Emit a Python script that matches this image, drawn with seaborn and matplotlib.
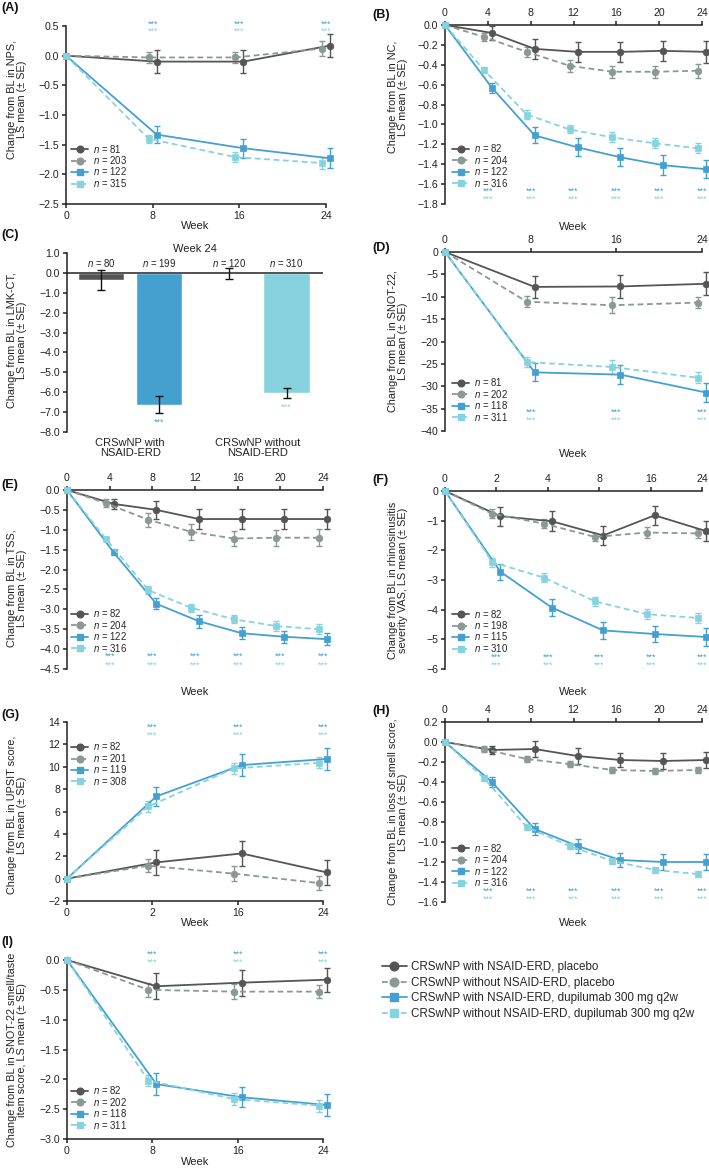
import numpy as np
import matplotlib
matplotlib.use("Agg")
import matplotlib.pyplot as plt
import seaborn as sns
from matplotlib.lines import Line2D
from matplotlib.ticker import FuncFormatter

# ---------------- data ----------------
KEYS = ["wp", "op", "wd", "od"]
LEGEND_LABELS = ["CRSwNP with NSAID-ERD, placebo",
                 "CRSwNP without NSAID-ERD, placebo",
                 "CRSwNP with NSAID-ERD, dupilumab 300 mg q2w",
                 "CRSwNP without NSAID-ERD, dupilumab 300 mg q2w"]

# (A) NPS
A_weeks = [0, 8, 16, 24]
A_wp = [0, -0.10, -0.10, 0.17]; A_wp_se = [0, 0.19, 0.20, 0.20]
A_op = [0, -0.03, -0.03, 0.12]; A_op_se = [0, 0.10, 0.10, 0.12]
A_wd = [0, -1.33, -1.56, -1.73]; A_wd_se = [0, 0.15, 0.16, 0.17]
A_od = [0, -1.40, -1.71, -1.81]; A_od_se = [0, 0.07, 0.08, 0.10]
A_n = [81, 203, 122, 315]

# (B) NC
B_weeks = [0, 4, 8, 12, 16, 20, 24]
B_wp = [0, -0.08, -0.24, -0.27, -0.27, -0.26, -0.27]; B_wp_se = [0, 0.07, 0.10, 0.10, 0.10, 0.10, 0.11]
B_op = [0, -0.12, -0.27, -0.41, -0.47, -0.47, -0.46]; B_op_se = [0, 0.04, 0.05, 0.06, 0.06, 0.06, 0.07]
B_wd = [0, -0.63, -1.11, -1.23, -1.33, -1.41, -1.45]; B_wd_se = [0, 0.05, 0.08, 0.09, 0.09, 0.10, 0.09]
B_od = [0, -0.45, -0.90, -1.05, -1.13, -1.19, -1.24]; B_od_se = [0, 0.03, 0.05, 0.04, 0.05, 0.05, 0.05]
B_n = [82, 204, 122, 316]

# (C) LMK-CT at week 24
C_groups = ["CRSwNP with\nNSAID-ERD", "CRSwNP without\nNSAID-ERD"]
C_bar_keys = ["wp", "wd", "op", "od"]
C_vals = [-0.35, -6.62, -0.03, -6.02]
C_se = [0.51, 0.42, 0.27, 0.25]
C_n = [80, 199, 120, 310]

# (D) SNOT-22
D_weeks = [0, 8, 16, 24]
D_wp = [0, -7.8, -7.7, -7.1]; D_wp_se = [0, 2.4, 2.6, 2.6]
D_op = [0, -11.1, -11.9, -11.3]; D_op_se = [0, 1.3, 1.8, 1.3]
D_wd = [0, -26.9, -27.4, -31.4]; D_wd_se = [0, 2.0, 2.2, 2.2]
D_od = [0, -24.6, -25.7, -28.1]; D_od_se = [0, 1.2, 1.5, 1.2]
D_n = [81, 202, 118, 311]

# (E) TSS
E_weeks = [0, 4, 8, 12, 16, 20, 24]
E_wp = [0, -0.35, -0.50, -0.73, -0.73, -0.73, -0.73]; E_wp_se = [0, 0.12, 0.22, 0.24, 0.25, 0.24, 0.24]
E_op = [0, -0.33, -0.75, -1.05, -1.22, -1.20, -1.20]; E_op_se = [0, 0.10, 0.18, 0.20, 0.20, 0.20, 0.22]
E_wd = [0, -1.57, -2.86, -3.30, -3.60, -3.69, -3.75]; E_wd_se = [0, 0.07, 0.14, 0.17, 0.15, 0.15, 0.15]
E_od = [0, -1.22, -2.52, -2.96, -3.25, -3.42, -3.50]; E_od_se = [0, 0.05, 0.10, 0.10, 0.10, 0.12, 0.12]
E_n = [82, 204, 122, 316]

# (F) rhinosinusitis severity VAS
F_weeks = ["0", "2", "4", "8", "16", "24"]
F_wp = [0, -0.85, -1.02, -1.50, -0.82, -1.35]; F_wp_se = [0, 0.32, 0.33, 0.33, 0.32, 0.35]
F_op = [0, -0.77, -1.10, -1.55, -1.40, -1.43]; F_op_se = [0, 0.15, 0.15, 0.15, 0.20, 0.15]
F_wd = [0, -2.72, -3.93, -4.70, -4.82, -4.92]; F_wd_se = [0, 0.27, 0.30, 0.30, 0.28, 0.30]
F_od = [0, -2.40, -2.92, -3.72, -4.15, -4.28]; F_od_se = [0, 0.15, 0.15, 0.15, 0.17, 0.17]
F_n = [82, 198, 115, 310]

# (G) UPSIT
G_weeks = ["0", "2", "16", "24"]
G_wp = [0, 1.45, 2.25, 0.55]; G_wp_se = [0, 1.10, 1.10, 1.10]
G_op = [0, 1.15, 0.45, -0.40]; G_op_se = [0, 0.60, 0.70, 0.60]
G_wd = [0, 7.35, 10.15, 10.70]; G_wd_se = [0, 0.85, 1.00, 1.00]
G_od = [0, 6.45, 9.85, 10.35]; G_od_se = [0, 0.50, 0.50, 0.50]
G_n = [82, 201, 119, 308]

# (H) loss of smell
H_weeks = [0, 4, 8, 12, 16, 20, 24]
H_wp = [0, -0.08, -0.07, -0.14, -0.18, -0.19, -0.18]; H_wp_se = [0, 0.04, 0.08, 0.08, 0.07, 0.08, 0.08]
H_op = [0, -0.07, -0.17, -0.22, -0.28, -0.29, -0.28]; H_op_se = [0, 0.03, 0.03, 0.03, 0.03, 0.03, 0.03]
H_wd = [0, -0.40, -0.87, -1.04, -1.18, -1.20, -1.20]; H_wd_se = [0, 0.05, 0.06, 0.07, 0.07, 0.08, 0.08]
H_od = [0, -0.36, -0.85, -1.04, -1.19, -1.28, -1.32]; H_od_se = [0, 0.03, 0.03, 0.03, 0.03, 0.03, 0.03]
H_n = [82, 204, 122, 316]

# (I) SNOT-22 smell/taste item
I_weeks = [0, 8, 16, 24]
I_wp = [0, -0.44, -0.38, -0.33]; I_wp_se = [0, 0.22, 0.22, 0.20]
I_op = [0, -0.50, -0.53, -0.53]; I_op_se = [0, 0.12, 0.12, 0.11]
I_wd = [0, -2.08, -2.30, -2.43]; I_wd_se = [0, 0.18, 0.17, 0.18]
I_od = [0, -2.02, -2.33, -2.44]; I_od_se = [0, 0.09, 0.10, 0.10]
I_n = [82, 202, 118, 311]

# ---------------- style ----------------
sns.set_style("ticks")
plt.rcParams["font.family"] = ["Liberation Sans", "DejaVu Sans"]
plt.rcParams["mathtext.fontset"] = "custom"
plt.rcParams["mathtext.rm"] = "Liberation Sans"
plt.rcParams["mathtext.it"] = "Liberation Sans:italic"

COLORS = {"wp": "#555555", "op": "#8b9894", "wd": "#44a1cf", "od": "#86d3df"}
DASH = (0, (3.2, 2.0))
LS = {"wp": "-", "op": DASH, "wd": "-", "od": DASH}
MK = {"wp": "o", "op": "o", "wd": "s", "od": "s"}
SIGN = {"wp": 1, "op": -1, "wd": 1, "od": -1}
INK = "#222222"
TICK_FS = 7.6
LEG_FS = 6.9
STAR_FS = 6.5
WEEK_FS = 8.0
YL_FS = 7.8

W, H = 709, 1169
fig = plt.figure(figsize=(W / 100, H / 100), dpi=100)


def make_ax(x0, y0, x1, y1):
    return fig.add_axes([x0 / W, 1 - y1 / H, (x1 - x0) / W, (y1 - y0) / H])


def fmt(dec):
    def f(v, p):
        if abs(v) < 1e-9:
            v = 0.0
        return f"{v:.{dec}f}".replace("-", "\u2212")
    return FuncFormatter(f)


def style_ax(ax, top):
    ax.spines["right"].set_visible(False)
    if top:
        ax.spines["bottom"].set_visible(False)
        ax.xaxis.tick_top()
    else:
        ax.spines["top"].set_visible(False)
    for s in ax.spines.values():
        s.set_linewidth(1.1)
        s.set_color(INK)
    ax.tick_params(direction="out", length=3, width=1.1, labelsize=TICK_FS,
                   pad=2, colors=INK)


def ftext(x, y, s, **kw):
    fig.text(x / W, 1 - y / H, s, **kw)


def line_panel(ax, x, series, ses, ns, xlim, ylim, yticks, ydec, xticks,
               xlabels, top, star_x, star_y, leg_anchor):
    ax.set_xlim(xlim)
    ax.set_ylim(ylim)
    wpx = ax.get_position().width * W
    hpx = ax.get_position().height * H
    ypp = (ylim[1] - ylim[0]) / hpx
    off = 4.0 * (xlim[1] - xlim[0]) / wpx
    x = np.asarray(x, float)
    for k in KEYS:
        xs = x + SIGN[k] * off * (x > 0)
        m = np.asarray(series[k], float)
        e = np.asarray(ses[k], float)
        ax.errorbar(xs[1:], m[1:], yerr=e[1:], fmt="none", ecolor=COLORS[k],
                    elinewidth=1.0, capsize=2.4, capthick=1.0, clip_on=False,
                    zorder=2)
        sns.lineplot(x=xs, y=m, ax=ax, color=COLORS[k], linestyle=LS[k],
                     marker=MK[k], markersize=4.8, markeredgecolor=COLORS[k],
                     markeredgewidth=0.5, linewidth=1.3, clip_on=False,
                     zorder=3, estimator=None, sort=False)
    style_ax(ax, top)
    ax.set_yticks(yticks)
    ax.yaxis.set_major_formatter(fmt(ydec))
    ax.set_xticks(xticks)
    ax.set_xticklabels(xlabels)
    ax.set_xlabel("")
    ax.set_ylabel("")
    # asterisk glyphs sit high in the line box: nudge down by ~1.5 px
    for sx in star_x:
        ax.text(sx, star_y[0] - 1.5 * ypp, "***", color=COLORS["wd"],
                fontsize=STAR_FS, ha="center", va="center", clip_on=False)
        ax.text(sx, star_y[1] - 1.5 * ypp, "***", color=COLORS["od"],
                fontsize=STAR_FS, ha="center", va="center", clip_on=False)
    handles = [Line2D([0], [0], color=COLORS[k], ls=LS[k], marker=MK[k],
                      markersize=4.8, lw=1.3, mec=COLORS[k]) for k in KEYS]
    labels = [rf"$n$ = {n}" for n in ns]
    ax.legend(handles, labels, loc="upper left", bbox_to_anchor=leg_anchor,
              frameon=False, fontsize=LEG_FS, handlelength=1.8,
              handletextpad=0.45, labelspacing=-0.06, borderpad=0,
              borderaxespad=0)


# ---- (A)
ax = make_ax(66, 26, 326, 204)
line_panel(ax, A_weeks,
           dict(wp=A_wp, op=A_op, wd=A_wd, od=A_od),
           dict(wp=A_wp_se, op=A_op_se, wd=A_wd_se, od=A_od_se), A_n,
           (0, 24), (-2.5, 0.5), np.arange(-2.5, 0.51, 0.5), 1,
           A_weeks, [str(w) for w in A_weeks], False, A_weeks[1:], (0.56, 0.43),
           (0.02, 0.345))

# ---- (B)
ax = make_ax(445, 25, 702, 204)
line_panel(ax, B_weeks,
           dict(wp=B_wp, op=B_op, wd=B_wd, od=B_od),
           dict(wp=B_wp_se, op=B_op_se, wd=B_wd_se, od=B_od_se), B_n,
           (0, 24), (-1.8, 0.0), np.arange(-1.8, 0.01, 0.2), 1,
           B_weeks, [str(w) for w in B_weeks], True, B_weeks[1:], (-1.655, -1.74),
           (0.027, 0.345))

# ---- (C)
ax = make_ax(67, 253, 323, 432)
C_pos = [0, 1, 2.2, 3.2]
ax.set_xlim(-0.59, 3.83)
ax.set_ylim(-8, 1)
ax.bar(C_pos, C_vals, width=0.8, color=[COLORS[k] for k in C_bar_keys],
       zorder=2)
ax.errorbar(C_pos, C_vals, yerr=C_se, fmt="none", ecolor="#111111",
            elinewidth=1.0, capsize=3, capthick=1.0, zorder=3)
ax.axhline(0, color=INK, lw=1.1, zorder=4)
style_ax(ax, False)
ax.spines["bottom"].set_visible(False)
ax.set_yticks(np.arange(-8, 1.01, 1))
ax.yaxis.set_major_formatter(fmt(1))
ax.set_xticks([(C_pos[0] + C_pos[1]) / 2, (C_pos[2] + C_pos[3]) / 2])
ax.set_xticklabels(C_groups, fontsize=8, linespacing=1.05)
ax.tick_params(axis="x", length=0, pad=4)
for p, n in zip(C_pos, C_n):
    ax.text(p, 0.52, rf"$n$ = {n}", fontsize=LEG_FS, ha="center", va="center",
            color=INK)
ax.text(C_pos[1], C_vals[1] - C_se[1] - 0.48, "***", color=COLORS["wd"],
        fontsize=STAR_FS, ha="center", va="center")
ax.text(C_pos[3], C_vals[3] - C_se[3] - 0.48, "***", color=COLORS["od"],
        fontsize=STAR_FS, ha="center", va="center")
ftext(195, 249, "Week 24", fontsize=WEEK_FS, ha="center", va="center",
      color=INK)

# ---- (D)
ax = make_ax(445, 252, 702, 431)
line_panel(ax, D_weeks,
           dict(wp=D_wp, op=D_op, wd=D_wd, od=D_od),
           dict(wp=D_wp_se, op=D_op_se, wd=D_wd_se, od=D_od_se), D_n,
           (0, 24), (-40, 0), np.arange(-40, 0.1, 5), 0,
           D_weeks, [str(w) for w in D_weeks], True, D_weeks[1:], (-35.4, -37.3),
           (0.027, 0.305))

# ---- (E)
ax = make_ax(67, 490, 323, 669)
line_panel(ax, E_weeks,
           dict(wp=E_wp, op=E_op, wd=E_wd, od=E_od),
           dict(wp=E_wp_se, op=E_op_se, wd=E_wd_se, od=E_od_se), E_n,
           (0, 24), (-4.5, 0), np.arange(-4.5, 0.01, 0.5), 1,
           E_weeks, [str(w) for w in E_weeks], True, E_weeks[1:], (-4.15, -4.36),
           (0.016, 0.345))

# ---- (F)
ax = make_ax(445, 491, 702, 669)
F_pos = list(range(len(F_weeks)))
line_panel(ax, F_pos,
           dict(wp=F_wp, op=F_op, wd=F_wd, od=F_od),
           dict(wp=F_wp_se, op=F_op_se, wd=F_wd_se, od=F_od_se), F_n,
           (0, F_pos[-1]), (-6, 0), np.arange(-6, 0.1, 1), 0,
           F_pos, F_weeks, True, F_pos[1:], (-5.55, -5.81),
           (0.027, 0.345))

# ---- (G)
ax = make_ax(67, 722, 323, 901)
G_pos = list(range(len(G_weeks)))
line_panel(ax, G_pos,
           dict(wp=G_wp, op=G_op, wd=G_wd, od=G_od),
           dict(wp=G_wp_se, op=G_op_se, wd=G_wd_se, od=G_od_se), G_n,
           (0, G_pos[-1]), (-2, 14), np.arange(-2, 14.1, 2), 0,
           G_pos, G_weeks, False, G_pos[1:], (13.68, 12.98),
           (0.016, 0.897))

# ---- (H)
ax = make_ax(445, 722, 702, 902)
line_panel(ax, H_weeks,
           dict(wp=H_wp, op=H_op, wd=H_wd, od=H_od),
           dict(wp=H_wp_se, op=H_op_se, wd=H_wd_se, od=H_od_se), H_n,
           (0, 24), (-1.6, 0.2), np.arange(-1.6, 0.21, 0.2), 1,
           H_weeks, [str(w) for w in H_weeks], True, H_weeks[1:], (-1.475, -1.56),
           (0.027, 0.335))

# ---- (I)
ax = make_ax(67, 960, 323, 1139)
line_panel(ax, I_weeks,
           dict(wp=I_wp, op=I_op, wd=I_wd, od=I_od),
           dict(wp=I_wp_se, op=I_op_se, wd=I_wd_se, od=I_od_se), I_n,
           (0, 24), (-3, 0), np.arange(-3, 0.01, 0.5), 1,
           I_weeks, [str(w) for w in I_weeks], False, I_weeks[1:], (0.12, -0.02),
           (0.016, 0.305))

# ---- labels
ylabels = [
    (17, 99, "Change from BL in NPS,\nLS mean (\u00b1 SE)"),
    (398, 97, "Change from BL in NC,\nLS mean (\u00b1 SE)"),
    (17, 340, "Change from BL in LMK-CT,\nLS mean (\u00b1 SE)"),
    (398, 341, "Change from BL in SNOT-22,\nLS mean (\u00b1 SE)"),
    (17, 588, "Change from BL in TSS,\nLS mean (\u00b1 SE)"),
    (398, 580, "Change from BL in rhinosinusitis\nseverity VAS, LS mean (\u00b1 SE)"),
    (17, 815, "Change from BL in UPSIT score,\nLS mean (\u00b1 SE)"),
    (398, 812, "Change from BL in loss of smell score,\nLS mean (\u00b1 SE)"),
    (17, 1050, "Change from BL in SNOT-22 smell/taste\nitem score, LS mean (\u00b1 SE)"),
]
for x, y, s in ylabels:
    ftext(x, y, s, rotation=90, ha="center", va="center", fontsize=YL_FS,
          linespacing=1.1, color=INK)

for x, y in [(195, 226), (573, 227), (573, 454), (195, 692), (573, 692),
             (195, 923), (573, 923), (195, 1162)]:
    ftext(x, y, "Week", fontsize=WEEK_FS, ha="center", va="center", color=INK)

for x, y, s in [(1, 8, "(A)"), (372, 15, "(B)"), (1, 235, "(C)"),
                (372, 248, "(D)"), (1, 485, "(E)"), (372, 480, "(F)"),
                (1, 715, "(G)"), (372, 711, "(H)"), (1, 942, "(I)")]:
    ftext(x, y, s, fontsize=9, fontweight="bold", ha="left", va="center",
          color="#111111")

# ---- shared legend
handles = [Line2D([0], [0], color=COLORS[k], ls=LS[k], marker=MK[k],
                  markersize=6.2, lw=1.3, mec=COLORS[k]) for k in KEYS]
fig.legend(handles, LEGEND_LABELS, loc="upper left",
           bbox_to_anchor=(382 / W, 1 - 961 / H), frameon=False, fontsize=8.4,
           handlelength=2.1, handletextpad=0.4, labelspacing=0.32,
           borderpad=0, borderaxespad=0)

fig.savefig("out.png", dpi=100, facecolor="white")
